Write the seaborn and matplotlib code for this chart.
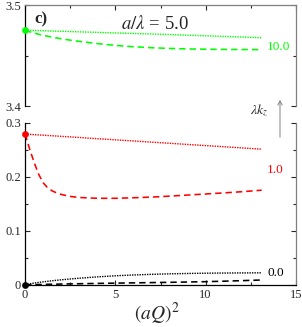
import numpy as np
import pandas as pd
import matplotlib
matplotlib.use("Agg")
import matplotlib.pyplot as plt
import seaborn as sns
from matplotlib.patches import FancyArrowPatch
from matplotlib.ticker import MultipleLocator, FixedLocator, FixedFormatter

# ---- data ----
aq2 = [0, 0.25, 0.5, 0.75, 1, 1.25, 1.5, 1.75, 2, 2.5, 3, 4, 5, 6, 7, 8, 9, 10, 11, 12, 13.1]

green_dotted = [3.4750, 3.4749, 3.4748, 3.4747, 3.4745, 3.4744, 3.4742, 3.4741, 3.4740,
                3.4737, 3.4734, 3.4729, 3.4723, 3.4718, 3.4713, 3.4707, 3.4701, 3.4695,
                3.4689, 3.4683, 3.4676]
green_dashed = [3.4750, 3.4735, 3.4722, 3.4711, 3.4700, 3.4691, 3.4682, 3.4674, 3.4666,
                3.4652, 3.4640, 3.4618, 3.4600, 3.4587, 3.4577, 3.4570, 3.4565, 3.4562,
                3.4560, 3.4559, 3.4558]

red_dotted = [0.2790, 0.2785, 0.2779, 0.2774, 0.2769, 0.2763, 0.2758, 0.2753, 0.2747,
              0.2737, 0.2726, 0.2704, 0.2683, 0.2662, 0.2640, 0.2619, 0.2597, 0.2576,
              0.2555, 0.2533, 0.2510]
red_dashed = [0.279, 0.252, 0.227, 0.205, 0.189, 0.1795, 0.1738, 0.1700, 0.1672,
              0.1635, 0.1615, 0.1600, 0.1600, 0.1610, 0.1622, 0.1640, 0.1660, 0.1680,
              0.1700, 0.1722, 0.1750]

black_dotted = [0.0, 0.0015, 0.0030, 0.0042, 0.0053, 0.0063, 0.0073, 0.0082, 0.0090,
                0.0106, 0.0120, 0.0145, 0.0165, 0.0180, 0.0192, 0.0201, 0.0208, 0.0213,
                0.0216, 0.0218, 0.0220]
black_dashed = [0.0, 0.0001, 0.0002, 0.0003, 0.0005, 0.0007, 0.0009, 0.0010, 0.0012,
                0.0015, 0.0018, 0.0024, 0.0029, 0.0034, 0.0039, 0.0044, 0.0050, 0.0056,
                0.0065, 0.0075, 0.0087]

series_labels = ["10.0", "1.0", "0.0"]
label_y = [3.4585, 0.212, 0.0217]
label_x = 13.4

x_ticks = [0, 5, 10, 15]
top_yticks = [3.4, 3.5]
top_yticklabels = ["3.4", "3.5"]
bottom_yticks = [0, 0.1, 0.2, 0.3]
bottom_yticklabels = ["0", "0.1", "0.2", "0.3"]

GREEN = "#00ff00"
RED = "#ff0000"
BLACK = "#000000"
GRAY = "#808080"

sns.set_style("ticks")
plt.rcParams["font.family"] = ["Liberation Serif", "DejaVu Serif"]
plt.rcParams["mathtext.fontset"] = "stix"

W, H = 302, 327
fig = plt.figure(figsize=(W / 100, H / 100), dpi=100)

def px_axes(x0, y0, x1, y1):
    return fig.add_axes([x0 / W, 1 - y1 / H, (x1 - x0) / W, (y1 - y0) / H])

ax_top = px_axes(25, 5, 296, 106)
ax_bot = px_axes(25, 122.7, 296, 284.7)

df = pd.DataFrame({
    "aq2": aq2,
    "g_dot": green_dotted, "g_dash": green_dashed,
    "r_dot": red_dotted, "r_dash": red_dashed,
    "k_dot": black_dotted, "k_dash": black_dashed,
})

dot_style = (0, (1, 0.8))
dash_style = (0, (4, 2.5))
LW_DOT = 1.0
LW_DASH = 1.15

sns.lineplot(data=df, x="aq2", y="g_dot", ax=ax_top, color=GREEN, lw=LW_DOT, linestyle=dot_style)
sns.lineplot(data=df, x="aq2", y="g_dash", ax=ax_top, color=GREEN, lw=LW_DASH, linestyle=dash_style)
sns.scatterplot(x=[aq2[0]], y=[green_dotted[0]], ax=ax_top, color=GREEN, s=20, edgecolor=GREEN,
                zorder=5, clip_on=False)

sns.lineplot(data=df, x="aq2", y="r_dot", ax=ax_bot, color=RED, lw=LW_DOT, linestyle=dot_style)
sns.lineplot(data=df, x="aq2", y="r_dash", ax=ax_bot, color=RED, lw=LW_DASH, linestyle=dash_style)
sns.lineplot(data=df, x="aq2", y="k_dot", ax=ax_bot, color=BLACK, lw=LW_DOT, linestyle=dot_style)
sns.lineplot(data=df, x="aq2", y="k_dash", ax=ax_bot, color=BLACK, lw=LW_DASH, linestyle=dash_style)
sns.scatterplot(x=[aq2[0]], y=[red_dotted[0]], ax=ax_bot, color=RED, s=20, edgecolor=RED,
                zorder=5, clip_on=False)
sns.scatterplot(x=[aq2[0]], y=[black_dotted[0]], ax=ax_bot, color=BLACK, s=20, edgecolor=BLACK,
                zorder=5, clip_on=False)

for ax in (ax_top, ax_bot):
    ax.set_xlim(0, 15)
    ax.set_xlabel("")
    ax.set_ylabel("")
    ax.xaxis.set_major_locator(FixedLocator(x_ticks))
    ax.xaxis.set_minor_locator(MultipleLocator(2.5))
    ax.tick_params(which="both", direction="in", top=True, right=True, labelsize=9,
                   pad=3, width=0.8)
    ax.tick_params(which="major", length=3.5)
    ax.tick_params(which="minor", length=2.2)
    ax.spines["left"].set_color(BLACK)
    ax.spines["bottom"].set_color(BLACK)
    ax.spines["top"].set_color(GRAY)
    ax.spines["right"].set_color(GRAY)
    for sp in ax.spines.values():
        sp.set_linewidth(0.9)

ax_top.set_ylim(3.4, 3.5)
ax_top.yaxis.set_major_locator(FixedLocator(top_yticks))
ax_top.yaxis.set_major_formatter(FixedFormatter(top_yticklabels))
ax_top.yaxis.set_minor_locator(FixedLocator([3.45]))
ax_top.spines["bottom"].set_visible(False)
ax_top.tick_params(which="both", bottom=False, labelbottom=False)

ax_bot.set_ylim(0, 0.3)
ax_bot.yaxis.set_major_locator(FixedLocator(bottom_yticks))
ax_bot.yaxis.set_major_formatter(FixedFormatter(bottom_yticklabels))
ax_bot.yaxis.set_minor_locator(MultipleLocator(0.05))
ax_bot.spines["top"].set_visible(False)
ax_bot.tick_params(which="both", top=False)
ax_bot.set_xticklabels([str(v) for v in x_ticks])

for ax in (ax_top, ax_bot):
    for t in ax.yaxis.get_major_ticks() + ax.yaxis.get_minor_ticks():
        t.tick2line.set_color(GRAY)
    for t in ax.xaxis.get_major_ticks() + ax.xaxis.get_minor_ticks():
        t.tick2line.set_color(GRAY)

# series labels
ax_top.text(label_x, label_y[0], series_labels[0], color=GREEN, fontsize=9.5, va="center", ha="left")
ax_bot.text(label_x, label_y[1], series_labels[1], color=RED, fontsize=9.5, va="center", ha="left")
ax_bot.text(label_x, label_y[2], series_labels[2], color=BLACK, fontsize=9.5, va="center", ha="left")

# annotations
fig.text(41 / W, 1 - 19 / H, "c)", fontsize=12, fontweight="bold", ha="center", va="center")
fig.text(155 / W, 1 - 24 / H, r"$a/\lambda$ = 5.0", fontsize=13.5, ha="center", va="center")
fig.text(259 / W, 1 - 110 / H, r"$\lambda k_z$", fontsize=10, ha="center", va="center")
arrow = FancyArrowPatch((280 / W, 1 - 140 / H), (280 / W, 1 - 97 / H), transform=fig.transFigure,
                        arrowstyle="->,head_length=3,head_width=1.5", color=GRAY, lw=0.7,
                        mutation_scale=1)
fig.add_artist(arrow)
fig.text(157 / W, 1 - 314 / H, r"$(aQ)^2$", fontsize=14, ha="center", va="center")

fig.savefig("out.png", dpi=100)
